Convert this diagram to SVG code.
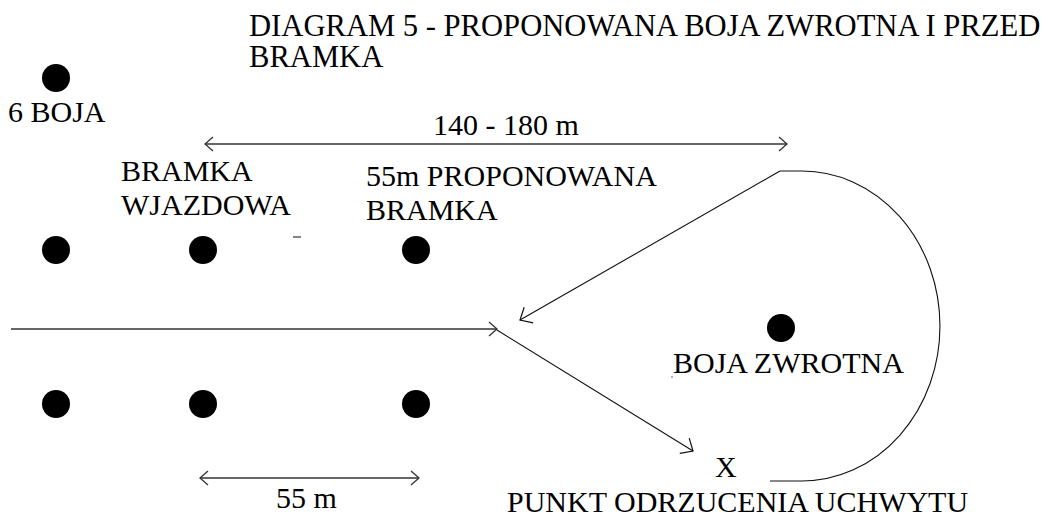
<svg xmlns="http://www.w3.org/2000/svg" width="1047" height="518" viewBox="0 0 1047 518">
<defs>
<style>
text{font-family:"Liberation Serif","Times New Roman",serif;font-size:30px;fill:#000}
.big{font-size:30.6px}
.buoy{fill:#000}
.dim{stroke:#333;stroke-width:1.6;fill:none}
.path{stroke:#111;stroke-width:1.1;fill:none}
</style>
<marker id="sa" viewBox="0 0 10 16" refX="9" refY="8" markerWidth="10" markerHeight="16" markerUnits="userSpaceOnUse" orient="auto-start-reverse">
<path d="M1,1 L9,8 L1,15" fill="none" stroke="#333" stroke-width="1.3"/>
</marker>
<marker id="la" viewBox="0 0 14 20" refX="13" refY="10" markerWidth="14" markerHeight="20" markerUnits="userSpaceOnUse" orient="auto">
<path d="M3,1 L13,10 L3,19" fill="none" stroke="#111" stroke-width="1.2"/>
</marker>
</defs>
<rect width="1047" height="518" fill="#fff"/>
<g id="title">
<text class="big" x="249" y="36">DIAGRAM 5 - PROPONOWANA BOJA ZWROTNA I PRZED</text>
<text class="big" x="249" y="67">BRAMKA</text>
</g>
<g id="buoy6">
<circle class="buoy" cx="56" cy="78" r="14"/>
<text x="8" y="122">6 BOJA</text>
</g>
<g id="entry-gate">
<circle class="buoy" cx="56" cy="250" r="14"/>
<circle class="buoy" cx="203" cy="250" r="14"/>
<circle class="buoy" cx="56" cy="404" r="14"/>
<circle class="buoy" cx="203" cy="404" r="14"/>
<text x="121" y="181">BRAMKA</text>
<text x="121" y="215">WJAZDOWA</text>
<line x1="293" y1="237" x2="301" y2="237" stroke="#333" stroke-width="1.2"/>
</g>
<g id="proposed-gate">
<circle class="buoy" cx="416" cy="250" r="14"/>
<circle class="buoy" cx="416" cy="404" r="14"/>
<text x="366" y="186">55m PROPONOWANA</text>
<text x="366" y="220">BRAMKA</text>
</g>
<g id="turn-buoy">
<circle class="buoy" cx="781" cy="328" r="14"/>
<text x="673" y="373">BOJA ZWROTNA</text>
<circle cx="672" cy="377" r="0.8" fill="#555"/>
</g>
<g id="release-point">
<text x="715" y="477">X</text>
<text x="507" y="512">PUNKT ODRZUCENIA UCHWYTU</text>
</g>
<g id="dimensions">
<line class="dim" x1="205" y1="144" x2="787" y2="144" marker-start="url(#sa)" marker-end="url(#sa)"/>
<text x="433" y="135">140 - 180 m</text>
<line class="dim" x1="200" y1="478" x2="419" y2="478" marker-start="url(#sa)" marker-end="url(#sa)"/>
<text x="276" y="508">55 m</text>
</g>
<g id="connectors">
<line class="dim" x1="11" y1="329" x2="497" y2="329" marker-end="url(#sa)"/>
<line class="path" x1="497" y1="330" x2="693" y2="451" marker-end="url(#la)"/>
<path class="path" d="M770,481 H802 A138,155 0 0 0 802,171 H780"/>
<line class="path" x1="780" y1="171" x2="520" y2="320" marker-end="url(#la)"/>
</g>
</svg>
